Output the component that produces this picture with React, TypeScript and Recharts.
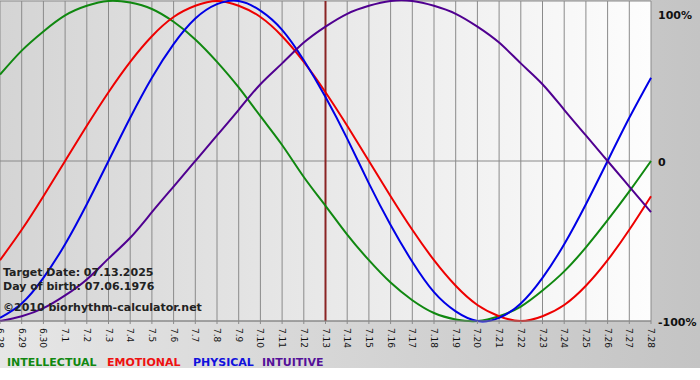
import { CartesianGrid, Line, LineChart, ReferenceLine, XAxis, YAxis } from "recharts";

const days = [
  "6.28", "6.29", "6.30", "7.1", "7.2", "7.3", "7.4", "7.5", "7.6", "7.7", "7.8",
  "7.9", "7.10", "7.11", "7.12", "7.13", "7.14", "7.15", "7.16", "7.17", "7.18",
  "7.19", "7.20", "7.21", "7.22", "7.23", "7.24", "7.25", "7.26", "7.27", "7.28",
];

// values, -1 .. 1
const intellectual = [
  0.54, 0.69, 0.81, 0.91, 0.97, 1.0, 0.99, 0.95, 0.87, 0.76, 0.62,
  0.46, 0.28, 0.1, -0.1, -0.28, -0.46, -0.62, -0.76, -0.87, -0.95,
  -0.99, -1.0, -0.97, -0.91, -0.81, -0.69, -0.54, -0.37, -0.19, 0,
];
const emotional = [
  -0.62, -0.43, -0.22, 0, 0.22, 0.43, 0.62, 0.78, 0.9, 0.97, 1.0,
  0.97, 0.9, 0.78, 0.62, 0.43, 0.22, 0, -0.22, -0.43, -0.62,
  -0.78, -0.9, -0.97, -1.0, -0.97, -0.9, -0.78, -0.62, -0.43, -0.22,
];
const physical = [
  -0.98, -0.89, -0.73, -0.52, -0.27, 0, 0.27, 0.52, 0.73, 0.89, 0.98,
  1.0, 0.94, 0.82, 0.63, 0.4, 0.14, -0.14, -0.4, -0.63, -0.82,
  -0.94, -1.0, -0.98, -0.89, -0.73, -0.52, -0.27, 0, 0.27, 0.52,
];
const intuitive = [
  -1.0, -0.97, -0.92, -0.84, -0.74, -0.61, -0.48, -0.32, -0.16, 0, 0.16,
  0.32, 0.48, 0.61, 0.74, 0.84, 0.92, 0.97, 1.0, 1.0, 0.97,
  0.92, 0.84, 0.74, 0.61, 0.48, 0.32, 0.16, 0, -0.16, -0.32,
];

const yTicks = [-1, 0, 1];
const yLabels: Record<string, string> = { "-1": "-100%", "0": "0", "1": "100%" };
const targetDay = "7.13";

const infoLines = [
  "Target Date: 07.13.2025",
  "Day of birth: 07.06.1976",
  "\u00a92010 biorhythm-calculator.net",
];

const legend = [
  { name: "INTELLECTUAL", color: "#118811", key: "intellectual" },
  { name: "EMOTIONAL", color: "#ee1111", key: "emotional" },
  { name: "PHYSICAL", color: "#1111dd", key: "physical" },
  { name: "INTUITIVE", color: "#551199", key: "intuitive" },
];

const lineColors: Record<string, string> = {
  intellectual: "#108810",
  emotional: "#ee0000",
  physical: "#0000e6",
  intuitive: "#500090",
};

const data = days.map((day, i) => ({
  day,
  intellectual: intellectual[i],
  emotional: emotional[i],
  physical: physical[i],
  intuitive: intuitive[i],
}));

const FONT = '"DejaVu Sans", Verdana, sans-serif';

function DayTick(props: any) {
  const { x, y, payload } = props;
  return (
    <text
      x={0}
      y={0}
      transform={`translate(${x},${y + 2}) rotate(90)`}
      textAnchor="start"
      dominantBaseline="central"
      fontFamily={FONT}
      fontSize={9}
      fill="#111"
    >
      {payload.value}
    </text>
  );
}

function PctTick(props: any) {
  const { x, y, payload } = props;
  const dy = payload.value === 1 ? 6 : 1.5;
  return (
    <text
      x={x}
      y={y + dy}
      textAnchor="start"
      dominantBaseline="central"
      fontFamily={FONT}
      fontSize={11}
      fontWeight="bold"
      fill="#111"
    >
      {yLabels[String(payload.value)]}
    </text>
  );
}

export default function App() {
  return (
    <div
      style={{
        position: "absolute",
        left: 0,
        top: 0,
        width: 700,
        height: 380,
        overflow: "hidden",
        background:
          "linear-gradient(to bottom, transparent 368px, #ffffff 368px), linear-gradient(to right, #e6e6e6, #c4c4c4)",
      }}
    >
      <LineChart
        width={700}
        height={380}
        data={data}
        margin={{ top: 1, right: 0, bottom: 9, left: 0 }}
      >
        <defs>
          <linearGradient id="plotBg" x1="0" y1="0" x2="1" y2="0">
            <stop offset="0%" stopColor="#d4d4d4" />
            <stop offset="100%" stopColor="#fdfdfd" />
          </linearGradient>
        </defs>
        <CartesianGrid stroke="#8a8a8a" fill="url(#plotBg)" fillOpacity={1} />
        <XAxis
          dataKey="day"
          interval={0}
          height={50}
          tickSize={3}
          tickMargin={2}
          axisLine={{ stroke: "#8a8a8a" }}
          tickLine={{ stroke: "#8a8a8a" }}
          tick={<DayTick />}
        />
        <YAxis
          orientation="right"
          width={49}
          domain={[-1, 1]}
          ticks={yTicks}
          axisLine={false}
          tickLine={false}
          tickSize={0}
          tickMargin={7}
          tick={<PctTick />}
        />
        <ReferenceLine x={targetDay} stroke="#8a2424" strokeWidth={2} />
        {legend.map((s) => (
          <Line
            key={s.key}
            type="natural"
            dataKey={s.key}
            stroke={lineColors[s.key]}
            strokeWidth={2}
            dot={false}
            isAnimationActive={false}
          />
        ))}
      </LineChart>
      <svg
        width={700}
        height={380}
        style={{ position: "absolute", left: 0, top: 0, pointerEvents: "none" }}
      >
        {infoLines.map((t, i) => (
          <text
            key={t}
            x={3}
            y={276 + i * 14 + (i === 2 ? 7 : 0)}
            fontFamily={FONT}
            fontSize={11}
            fontWeight="bold"
            fill="#222"
          >
            {t}
          </text>
        ))}
        <text y={366} fontFamily={FONT} fontSize={11} fontWeight="bold">
          {legend.map((s, i) => (
            <tspan key={s.key} x={[7, 107, 193, 262][i]} fill={s.color}>
              {s.name}
            </tspan>
          ))}
        </text>
      </svg>
    </div>
  );
}
